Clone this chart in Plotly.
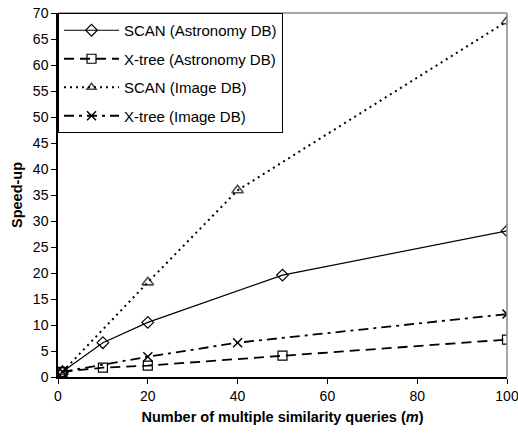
import plotly.graph_objects as go

# Data
x_scan_astro = [1, 10, 20, 50, 100]
y_scan_astro = [1, 6.6, 10.5, 19.6, 28.1]

x_xtree_astro = [1, 10, 20, 50, 100]
y_xtree_astro = [1, 1.8, 2.2, 4.1, 7.2]

x_scan_image = [1, 10, 20, 40, 100]
y_scan_image = [1, 9.2, 18.2, 35.9, 68.4]

x_xtree_image = [1, 20, 40, 100]
y_xtree_image = [1, 3.9, 6.6, 12.1]

x_ticks = [0, 20, 40, 60, 80, 100]
y_ticks = list(range(0, 71, 5))

font_family = "Liberation Sans, Arial, sans-serif"

fig = go.Figure()

fig.add_trace(go.Scatter(
    x=x_scan_astro, y=y_scan_astro, mode="lines+markers",
    name="SCAN (Astronomy DB)", legendgroup="a",
    line=dict(color="black", width=1.2, dash="solid"),
    marker=dict(symbol="diamond-open", size=9, color="black", line=dict(width=1.2, color="black")),
))
fig.add_trace(go.Scatter(
    x=x_xtree_astro, y=y_xtree_astro, mode="lines+markers",
    name="X-tree (Astronomy DB)", legendgroup="b",
    line=dict(color="black", width=1.8, dash="10px,6px"),
    marker=dict(symbol="square-open", size=9, color="black", line=dict(width=1.2, color="black")),
))
fig.add_trace(go.Scatter(
    x=x_scan_image, y=y_scan_image, mode="lines+markers",
    name="SCAN (Image DB)", legendgroup="c",
    line=dict(color="black", width=2, dash="2px,4px"),
    marker=dict(symbol="triangle-up-open", size=[10, 0, 10, 10, 10], color="black",
                line=dict(width=1.6, color="black")),
))
fig.add_trace(go.Scatter(
    x=x_xtree_image, y=y_xtree_image, mode="lines+markers",
    name="X-tree (Image DB)", legendgroup="d",
    line=dict(color="black", width=1.8, dash="10px,5px,3px,5px"),
    marker=dict(symbol="x-thin-open", size=9, color="black", line=dict(width=1.5, color="black")),
))

fig.update_layout(
    width=518, height=434,
    margin=dict(l=58, r=11, t=13, b=57),
    paper_bgcolor="white", plot_bgcolor="white",
    font=dict(family=font_family, size=14, color="black"),
    showlegend=True,
    legend=dict(
        x=0, y=1, xanchor="left", yanchor="top",
        bgcolor="white", bordercolor="black", borderwidth=1,
        font=dict(family=font_family, size=15, color="black"),
        tracegroupgap=6, itemwidth=55,
    ),
    xaxis=dict(
        range=[0, 100], tickvals=x_ticks, ticktext=[str(v) for v in x_ticks],
        showgrid=False, zeroline=False, automargin=False,
        showline=True, linecolor="black", linewidth=1.5,
        ticks="outside", ticklen=5, tickcolor="black",
        tickfont=dict(size=14), ticklabeloverflow="allow",
        title=dict(text="<b>Number of multiple similarity queries (<i>m</i>)</b>",
                   font=dict(size=14.5), standoff=9),
    ),
    yaxis=dict(
        range=[0, 70], tickvals=y_ticks,
        showgrid=False, zeroline=False, automargin=False,
        showline=True, linecolor="black", linewidth=1.5,
        ticks="outside", ticklen=5, tickcolor="black",
        tickfont=dict(size=14), ticklabeloverflow="allow",
        title=dict(text="<b>Speed-up</b>", font=dict(size=14.5), standoff=7),
    ),
    shapes=[
        dict(type="line", xref="paper", yref="paper", x0=0, x1=1, y0=1, y1=1,
             line=dict(color="#888888", width=1.5)),
        dict(type="line", xref="paper", yref="paper", x0=1, x1=1, y0=0, y1=1,
             line=dict(color="#888888", width=1.5)),
    ],
)

fig.write_html("out.html", config={"displayModeBar": False},
               post_script="document.body.style.margin='0';document.body.style.overflow='hidden';")
